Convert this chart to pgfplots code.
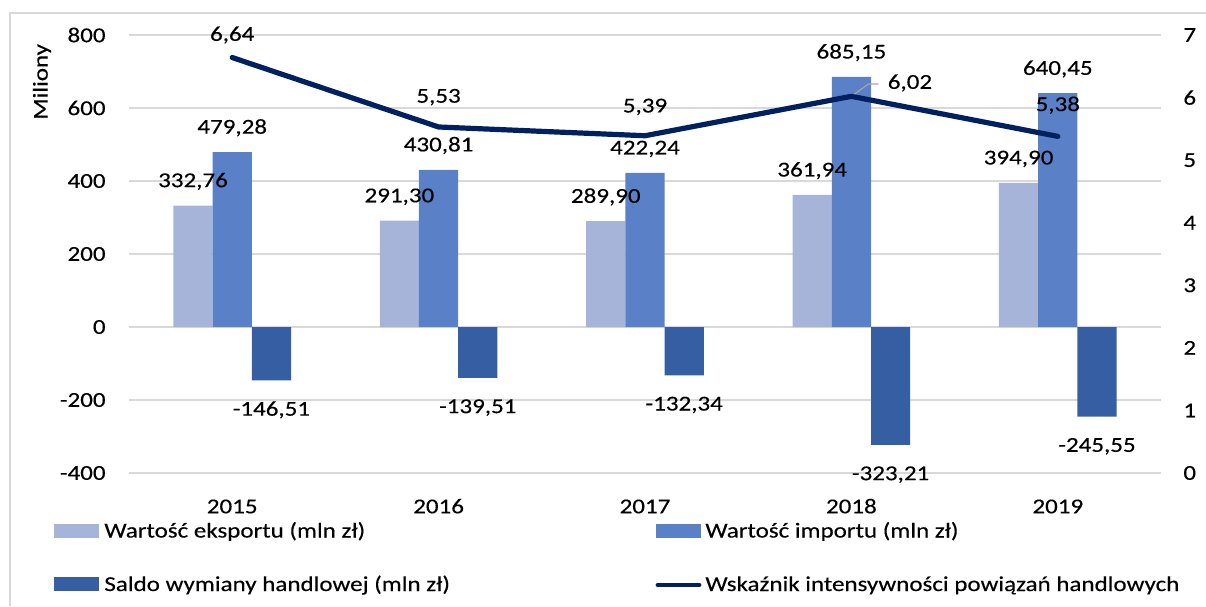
\documentclass[border=0pt]{standalone}
\usepackage{pgfplots}
\pgfplotsset{compat=1.18}
\usepackage{fontspec}
\setmainfont{Carlito}[FakeStretch=1.18, FakeBold=0.3]
\definecolor{eksport}{RGB}{167,180,218}
\definecolor{import}{RGB}{90,128,199}
\definecolor{saldo}{RGB}{54,94,163}
\definecolor{wskaznik}{RGB}{0,32,96}
\definecolor{siatka}{RGB}{217,217,217}
\newcommand{\rozm}{\fontsize{10.6}{12.7}\selectfont}

\begin{document}
\rozm
\begin{tikzpicture}
\useasboundingbox (0,0) rectangle (603pt,303pt);
% ramka wykresu (przycieta z prawej i od dolu)
\draw[siatka, line width=0.7pt] (5pt,0pt) -- (5pt,296.5pt) -- (603pt,296.5pt);

\pgfplotsset{
  wspolne/.style={
    at={(64.5pt,66.5pt)}, anchor=south west,
    scale only axis, width=516pt, height=219pt,
    xmin=-0.5, xmax=4.5,
    axis line style={draw=none}, major tick length=0pt,
    tick label style={font=\rozm},
    /pgf/number format/assume math mode=true,
    clip=false,
  },
  etykieta/.style={
    nodes near coords={\pgfmathprintnumber[fixed, fixed zerofill, precision=2, use comma, assume math mode=true]{\pgfplotspointmeta}},
    every node near coord/.append style={font=\rozm, text=black},
  },
}

\begin{axis}[
  wspolne,
  ymin=-400, ymax=800,
  xtick={0,1,2,3,4},
  xticklabels={2015,2016,2017,2018,2019},
  xticklabel style={anchor=base, yshift=-20.15pt},
  ytick={-400,-200,0,200,400,600,800},
  yticklabel style={anchor=east, inner sep=0pt, xshift=-11.5pt},
  ymajorgrids, grid style={siatka, line width=0.75pt},
  ylabel={Miliony},
  every axis y label/.style={at={(axis description cs:-0.0843,0.893)}, rotate=90, anchor=center, font=\rozm},
]
\addplot[ybar, bar width=0.19, bar shift=-0.19, fill=eksport, draw=none, etykieta,
  every node near coord/.append style={anchor=base, yshift=9.2pt, xshift=-19.6pt}]
  coordinates {(0,332.76) (1,291.30) (2,289.90) (3,361.94) (4,394.90)};
\addplot[ybar, bar width=0.19, bar shift=0, fill=import, draw=none, etykieta,
  every node near coord/.append style={anchor=base, yshift=9.2pt}]
  coordinates {(0,479.28) (1,430.81) (2,422.24) (3,685.15) (4,640.45)};
\addplot[ybar, bar width=0.19, bar shift=0.19, fill=saldo, draw=none, etykieta,
  every node near coord/.append style={anchor=base, yshift=-17.6pt, xshift=19.6pt}]
  coordinates {(0,-146.51) (1,-139.51) (2,-132.34) (3,-323.21) (4,-245.55)};
\end{axis}

\begin{axis}[
  wspolne,
  ymin=0, ymax=7,
  ytick={0,1,2,3,4,5,6,7},
  axis x line=none, axis y line*=right,
  yticklabel style={anchor=west, inner sep=0pt, xshift=11pt},
]
\addplot[wskaznik, line width=2.6pt, line join=round, line cap=round]
  coordinates {(0,6.64) (1,5.53) (2,5.39) (3,6.02) (4,5.38)};
\node[anchor=base, yshift=8.35pt] at (axis cs:0,6.64) {6,64};
\node[anchor=base, yshift=12.15pt] at (axis cs:1,5.53) {5,53};
\node[anchor=base, yshift=11.65pt] at (axis cs:2,5.39) {5,39};
\node[anchor=base, yshift=12.65pt] at (axis cs:4,5.38) {5,38};
\draw[gray!70, line width=0.6pt] ([xshift=1.5pt, yshift=1.15pt]axis cs:3,6.02) -- ([xshift=8.5pt, yshift=6.15pt]axis cs:3,6.02) -- ([xshift=13.5pt, yshift=6.15pt]axis cs:3,6.02);
\node[anchor=west, inner sep=0pt, xshift=18pt, yshift=6.65pt] at (axis cs:3,6.02) {6,02};
\end{axis}

% legenda
\fill[eksport] (27pt,34pt) rectangle (49.5pt,41pt);
\node[anchor=base west, inner sep=0pt] at (52pt,34.25pt) {Wartość eksportu (mln zł)};
\fill[import] (328pt,34pt) rectangle (350.5pt,41pt);
\node[anchor=base west, inner sep=0pt] at (352.5pt,34.25pt) {Wartość importu (mln zł)};
\fill[saldo] (27pt,7.5pt) rectangle (49.5pt,14.5pt);
\node[anchor=base west, inner sep=0pt] at (52pt,7.5pt) {Saldo wymiany handlowej (mln zł)};
\draw[wskaznik, line width=2.4pt, line cap=round] (329pt,10.5pt) -- (349.5pt,10.5pt);
\node[anchor=base west, inner sep=0pt] at (352.5pt,7.5pt) {Wskaźnik intensywności powiązań handlowych};
\end{tikzpicture}
\end{document}
